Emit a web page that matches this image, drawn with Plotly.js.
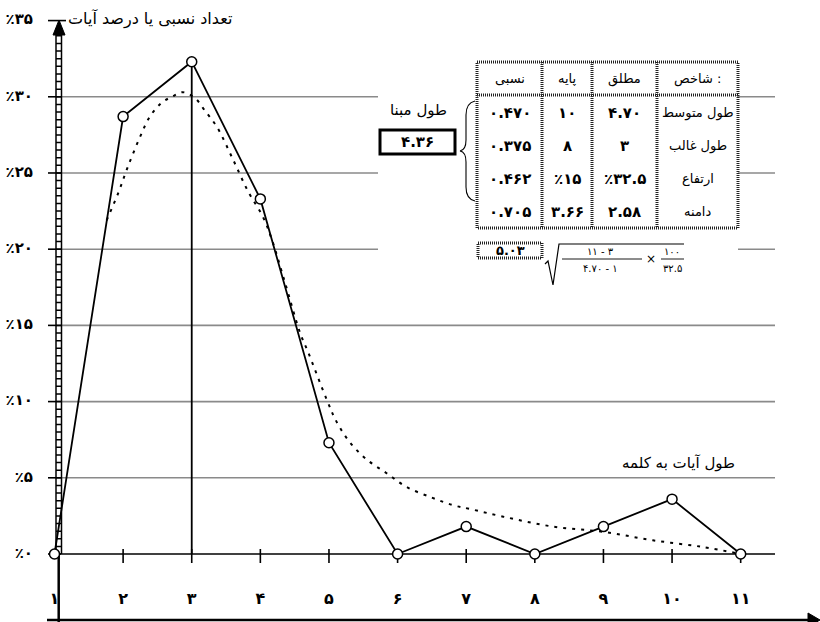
<!DOCTYPE html>
<html><head><meta charset="utf-8">
<script src="https://cdn.plot.ly/plotly-3.0.1.min.js"></script>
<style>html,body{margin:0;padding:0;background:#fff}</style>
</head><body><div id="chart" style="width:820px;height:622px"></div>
<script>
// ---------- data ----------
const xCats = [1,2,3,4,5,6,7,8,9,10,11];
const xTickText = ['۱','۲','۳','۴','۵','۶','۷','۸','۹','۱۰','۱۱'];
const percentValues = [0, 28.7, 32.3, 23.3, 7.3, 0, 1.8, 0, 1.8, 3.6, 0];
const yTickVals = [0,5,10,15,20,25,30,35];
const yTickText = ['٪۰','٪۵','٪۱۰','٪۱۵','٪۲۰','٪۲۵','٪۳۰','٪۳۵'];
const fitX = [1.76,1.93,2.06,2.25,2.39,2.56,2.71,2.87,3.05,3.19,3.37,3.6,3.82,4.04,4.17,4.36,4.58,4.7,4.97,5.12,5.31,5.55,5.84,6.13,6.5,6.81,7.06,7.54,8.26,9.0,9.72,10.45,11.0];
const fitY = [21.9,23.7,25.3,27.4,28.7,29.6,30.0,30.3,29.9,29.1,28.0,25.9,23.8,22.1,20.6,17.8,14.5,13.2,10.1,8.6,7.3,6.2,5.3,4.4,3.7,3.2,2.95,2.45,1.8,1.45,0.9,0.46,0.0];
const modeLength = 3;
const yTitle = 'تعداد نسبی یا درصد آیات';
const xTitle = 'طول آیات به کلمه';
const tableHeader = ['نسبی','پایه','مطلق','\u200E\u202Aشاخص :\u202C'];
const tableRelative = ['۰.۴۷۰','۰.۳۷۵','۰.۴۶۲','۰.۷۰۵'];
const tableBase = ['۱۰','۸','\u200E٪۱۵','۳.۶۶'];
const tableAbsolute = ['۴.۷۰','۳','\u200E٪۳۲.۵','۲.۵۸'];
const tableIndex = ['طول متوسط','طول غالب','ارتفاع','دامنه'];
const baseLabel = 'طول مبنا';
const baseLength = '۴.۳۶';
const sumRelative = '۵.۰۳';
const formulaNum1 = '۱۱ - ۳', formulaDen1 = '۴.۷۰ - ۱', formulaNum2 = '۱۰۰', formulaDen2 = '۳۲.۵';

// ---------- geometry helpers ----------
const W = 820, H = 622;
const X0 = 0.2058, X1 = 12.156, Y0 = -4.462, Y1 = 36.35;
const dx = px => X0 + px / W * (X1 - X0);
const dy = py => Y1 - py / H * (Y1 - Y0);
const pxX = px => px / W;
const pxY = py => 1 - py / H;
const FONT = 'DejaVu Sans, sans-serif';

const shapes = [];
const gray = '#8a8a8a';
function pline(x0,y0,x1,y1,color,width,layer,dash){
  shapes.push({type:'line',xref:'paper',yref:'paper',x0:pxX(x0),y0:pxY(y0),x1:pxX(x1),y1:pxY(y1),
    line:{color:color,width:width,dash:dash||'solid'},layer:layer||'above'});
}
// grid lines (horizontal), broken around the table / label area
yTickVals.forEach(v => {
  if (v === 0 || v === 35) return;
  const py = H * (Y1 - v) / (Y1 - Y0);
  if (v >= 20) { pline(61,py,378,py,gray,1.6,'below'); pline(738,py,775,py,gray,1.6,'below'); }
  else pline(61,py,775,py,gray,1.6,'below');
});
// baseline y=0
const pyZero = H * Y1 / (Y1 - Y0);
pline(57,pyZero,775,pyZero,'#000',1.6,'below');
// x ticks (crossing)
xCats.forEach(k => {
  if (k === 1) return;
  shapes.push({type:'line',xref:'x',yref:'paper',x0:k,x1:k,y0:pxY(549),y1:pxY(563),line:{color:'#000',width:1.6},layer:'below'});
});
// y ticks
yTickVals.forEach(v => {
  const py = H * (Y1 - v) / (Y1 - Y0);
  pline(48,py,v===35?66:61,py,'#000',1.6,'below');
});
// ladder y-axis
const py35 = H * (Y1 - 35) / (Y1 - Y0);
pline(56,pyZero,56,py35+8,'#000',1.5,'below');
pline(61.5,pyZero,61.5,py35+8,'#000',1.5,'below');
let ladder = '';
for (let v = 0.5; v < 35; v += 0.5) {
  const py = H * (Y1 - v) / (Y1 - Y0);
  ladder += `M${pxX(56)},${pxY(py)} L${pxX(61.5)},${pxY(py)} `;
}
shapes.push({type:'path',xref:'paper',yref:'paper',path:ladder,line:{color:'#000',width:1.5},layer:'below'});
pline(58.7,pyZero,58.7,622,'#000',2.5,'below');
// arrow head top
shapes.push({type:'path',xref:'paper',yref:'paper',
  path:`M${pxX(53)},${pxY(35)} L${pxX(59)},${pxY(20)} L${pxX(65)},${pxY(35)} Z`,
  fillcolor:'#000',line:{color:'#000',width:1},layer:'above'});
// bottom axis line + arrow
pline(47,620,812,620,'#000',2.6,'above');
shapes.push({type:'path',xref:'paper',yref:'paper',
  path:`M${pxX(808)},${pxY(613)} L${pxX(820)},${pxY(620)} L${pxX(808)},${pxY(627)} Z`,
  fillcolor:'#000',line:{color:'#000',width:1},layer:'above'});

// table borders (hatched look)
function hatchRect(x0,y0,x1,y1){
  shapes.push({type:'rect',xref:'paper',yref:'paper',x0:pxX(x0),y0:pxY(y0),x1:pxX(x1),y1:pxY(y1),
    line:{color:'#222',width:3,dash:'1px,1px'},fillcolor:'rgba(0,0,0,0)'});
}
function hatchLine(x0,y0,x1,y1){ pline(x0,y0,x1,y1,'#222',3,'above','1px,1px'); }
const tL = 477, tR = 738, tT = 62, tB = 228, tH = 95;
const colEdges = [477,542,592,657,738];
hatchRect(tL,tT,tR,tB);
[542,592,657].forEach(x => hatchLine(x,tT,x,tB));
hatchLine(tL,tH,tR,tH);
hatchRect(478,243,542,258);
// base length box
shapes.push({type:'rect',xref:'paper',yref:'paper',x0:pxX(380),y0:pxY(130),x1:pxX(455),y1:pxY(154),
  line:{color:'#000',width:3},fillcolor:'rgba(0,0,0,0)'});
// brace
shapes.push({type:'path',xref:'paper',yref:'paper',
  path:`M${pxX(475)},${pxY(101)} Q${pxX(466)},${pxY(103)} ${pxX(466)},${pxY(115)} L${pxX(466)},${pxY(140)} Q${pxX(466)},${pxY(150)} ${pxX(460)},${pxY(151)} Q${pxX(466)},${pxY(152)} ${pxX(466)},${pxY(162)} L${pxX(466)},${pxY(187)} Q${pxX(466)},${pxY(199)} ${pxX(475)},${pxY(201)}`,
  line:{color:'#000',width:1.1}});
// radical & fraction bars
shapes.push({type:'path',xref:'paper',yref:'paper',
  path:`M${pxX(545)},${pxY(264)} L${pxX(548)},${pxY(261)} L${pxX(553)},${pxY(285)} L${pxX(559)},${pxY(244)} L${pxX(684)},${pxY(244)}`,
  line:{color:'#000',width:1.2}});
pline(562,259,642,259,'#000',0.9,'above');
pline(661,259,684,259,'#000',0.9,'above');

// ---------- annotations ----------
const ann = [];
function txt(x,y,t,size,anchor,bold){
  ann.push({xref:'paper',yref:'paper',x:pxX(x),y:pxY(y),text:bold?'<b>'+t+'</b>':t,showarrow:false,
    xanchor:anchor||'center',yanchor:'middle',font:{family:FONT,size:size,color:'#000'}});
}
txt(66,19,yTitle,16,'left');
txt(737,463,xTitle,15,'right');
txt(418,110,baseLabel,15);
txt(417,142,baseLength,15,'center',true);
const colCenters = [];
for (let i=0;i<4;i++) colCenters.push((colEdges[i]+colEdges[i+1])/2);
const rowCenters = [113,146,179,212];
tableHeader.forEach((h,i) => txt(colCenters[i],79,h,13));
const cols = [tableRelative, tableBase, tableAbsolute, tableIndex];
cols.forEach((col,i) => col.forEach((v,j) => {
  if (i === 3) txt(colCenters[i],rowCenters[j],v,13);
  else txt(colCenters[i],rowCenters[j],v,15,'center',true);
}));
txt(510,250,sumRelative,13,'center',true);
txt(600,252,formulaNum1,10);
txt(600,268,formulaDen1,10);
txt(651,259,'×',12);
txt(672,252,formulaNum2,10);
txt(672,268,formulaDen2,10);

// ---------- traces ----------
const traces = [
  {x:fitX,y:fitY,type:'scatter',mode:'lines',line:{color:'#000',width:2,dash:'3px,6px',shape:'spline',smoothing:1},hoverinfo:'skip',cliponaxis:false},
  {x:[modeLength,modeLength],y:[0,percentValues[modeLength-1]],type:'scatter',mode:'lines',line:{color:'#000',width:1.8},hoverinfo:'skip'},
  {x:xCats,y:percentValues,type:'scatter',mode:'lines+markers',line:{color:'#000',width:1.8},
   marker:{symbol:'circle',size:10,color:'#fff',line:{color:'#000',width:1.5}},cliponaxis:false},
  {x:yTickVals.map(()=>dx(33)),y:yTickVals,text:yTickText.map(t=>'<b>'+t+'</b>'),type:'scatter',mode:'text',textposition:'middle left',
   textfont:{family:FONT,size:15,color:'#000'},hoverinfo:'skip',cliponaxis:false},
  {x:xCats,y:xCats.map(()=>dy(600)),text:xTickText.map(t=>'<b>'+t+'</b>'),type:'scatter',mode:'text',textposition:'middle center',
   textfont:{family:FONT,size:16,color:'#000'},hoverinfo:'skip',cliponaxis:false}
];

const layout = {
  width:W,height:H,margin:{l:0,r:0,t:0,b:0},showlegend:false,
  paper_bgcolor:'#fff',plot_bgcolor:'#fff',
  xaxis:{range:[X0,X1],visible:false,fixedrange:true},
  yaxis:{range:[Y0,Y1],visible:false,fixedrange:true},
  shapes:shapes,annotations:ann
};
Plotly.newPlot('chart',traces,layout,{displayModeBar:false,staticPlot:true});
</script></body></html>
